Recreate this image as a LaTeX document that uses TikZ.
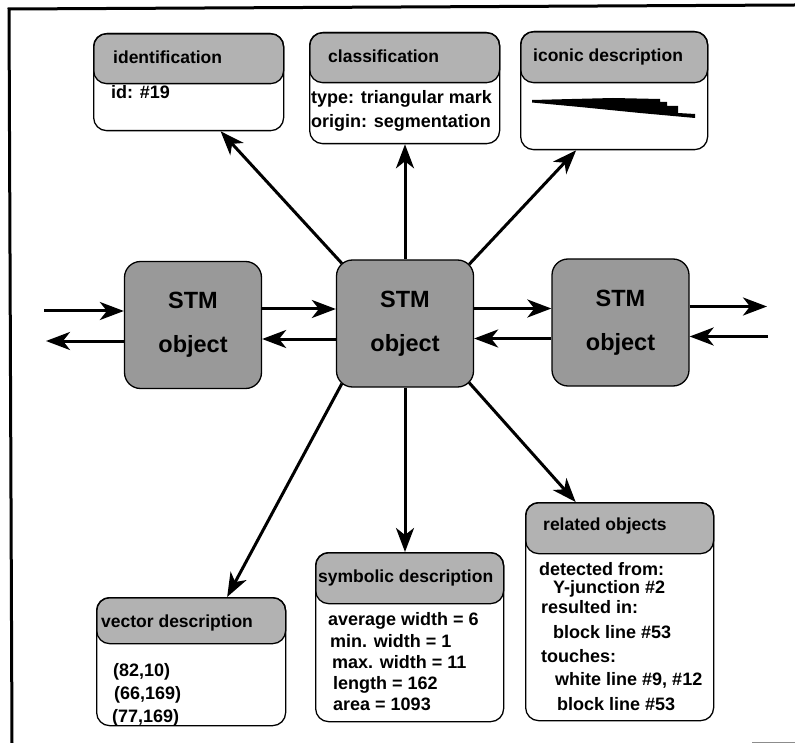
\documentclass[tikz,border=0pt]{standalone}
\usepackage{fontspec}
\setmainfont{Liberation Sans}
\usetikzlibrary{arrows.meta,calc}

\begin{document}
\begin{tikzpicture}[x=1pt,y=-1pt,
  stm/.style={draw, line width=1.3pt, rounded corners=16pt, fill=black!40,
    minimum width=137pt, minimum height=127pt, inner sep=0pt, align=center,
    font=\fontsize{23.5}{44}\selectfont\bfseries},
  infobox/.style={draw, line width=1.3pt, rounded corners=13pt,
    minimum width=190pt, inner sep=0pt, anchor=north west},
  infohead/.style={draw, line width=1.3pt, rounded corners=13pt, fill=black!30,
    minimum width=190pt, inner sep=0pt, anchor=north west},
  headtext/.style={anchor=base west, inner sep=0pt,
    font=\fontsize{17.5}{20}\selectfont\bfseries},
  bodytext/.style={anchor=base west, inner sep=0pt,
    font=\fontsize{18}{20}\selectfont\bfseries},
  link/.style={line width=3pt, -{Stealth[length=24pt,width=18pt,inset=7pt]}},
  frameline/.style={line width=3pt, line cap=rect}
]
\useasboundingbox (0,0) rectangle (795,743);

% page frame
\draw[frameline] (12,743) -- (9,9) -- (795,5);
\draw[line width=1pt, black!45] (752,742) -- (795,742);

% STM objects
\node[stm] (l) at (193,325) {STM\\object};
\node[stm] (c) at (405,323.5) {STM\\object};
\node[stm] (r) at (620.5,322.5) {STM\\object};

% identification
\node[infohead, minimum height=50pt] (identh) at (93,33) {};
\node[infobox, minimum height=97pt] (ident) at (93,33) {};
\node[headtext] (identt) at (113,64) {identification};
\node[bodytext] (identb) at (111,99) {id: \#19};

% classification
\node[infohead, minimum height=50pt] (classh) at (309,32) {};
\node[infobox, minimum height=111pt] (class) at (309,32) {};
\node[headtext] (classt) at (328,63) {classification};
\node[bodytext] (classb1) at (311,104) {type: triangular mark};
\node[bodytext] (classb2) at (311,128) {origin: segmentation};

% iconic description
\node[infohead, minimum width=187pt, minimum height=51pt] (iconh) at (520,31) {};
\node[infobox, minimum width=187pt, minimum height=118pt] (icon) at (520,31) {};
\node[headtext] (icont) at (533,62) {iconic description};
\fill (532,100) -- (572,99) -- (613,98) -- (660,99) -- (660,102) -- (667,102)
  -- (667,106) -- (678,106) -- (678,113) -- (695,114) -- (695,118)
  -- (640,113) -- (580,107) -- (532,102.5) -- cycle;

% vector description
\node[infohead, minimum width=189pt, minimum height=46pt] (vech) at (96,597) {};
\node[infobox, minimum width=189pt, minimum height=128pt] (vec) at (96,597) {};
\node[headtext] (vect) at (101,627) {vector description};
\node[bodytext] (vecb1) at (113,676) {(82,10)};
\node[bodytext] (vecb2) at (114,699) {(66,169)};
\node[bodytext] (vecb3) at (112,722) {(77,169)};

% symbolic description
\node[infohead, minimum width=188pt, minimum height=51pt] (symh) at (315,552) {};
\node[infobox, minimum width=188pt, minimum height=169pt] (sym) at (315,552) {};
\node[headtext] (symt) at (318,582) {symbolic description};
\node[bodytext] (symb1) at (328,625) {average width = 6};
\node[bodytext] (symb2) at (330,647) {min. width = 1};
\node[bodytext] (symb3) at (332,668) {max. width = 11};
\node[bodytext] (symb4) at (333,689) {length = 162};
\node[bodytext] (symb5) at (333,710) {area = 1093};

% related objects
\node[infohead, minimum width=188pt, minimum height=51pt] (relh) at (525,502) {};
\node[infobox, minimum width=188pt, minimum height=218pt] (rel) at (525,502) {};
\node[headtext] (relt) at (543,530) {related objects};
\node[bodytext] (relb1) at (539,575) {detected from:};
\node[bodytext] (relb2) at (553,593) {Y-junction \#2};
\node[bodytext] (relb3) at (541,613) {resulted in:};
\node[bodytext] (relb4) at (553,638) {block line \#53};
\node[bodytext] (relb5) at (541,662) {touches:};
\node[bodytext] (relb6) at (555,685) {white line \#9, \#12};
\node[bodytext] (relb7) at (557,710) {block line \#53};

% free ends of the chain
\coordinate (in1) at (44,311);
\coordinate (out1) at (46,341);
\coordinate (out2) at (767,306.5);
\coordinate (in2) at (768,336.5);

% chain of STM objects
\draw[link] (in1) -- ([shift={(0,-14)}]l.west);
\draw[link] ([shift={(0,16)}]l.west) -- (out1);
\draw[link] ([shift={(0,-16)}]l.east) -- ([shift={(0,-16)}]l.east -| c.west);
\draw[link] ([shift={(0,14)}]l.east -| c.west) -- ([shift={(0,14)}]l.east);
\draw[link] ([shift={(0,-15)}]c.east) -- ([shift={(0,-15)}]c.east -| r.west);
\draw[link] ([shift={(0,15)}]c.east -| r.west) -- ([shift={(0,15)}]c.east);
\draw[link] ([shift={(0,-16)}]r.east) -- (out2);
\draw[link] (in2) -- ([shift={(0,14)}]r.east);

% descriptions of the central object
\draw[link] ([shift={(6,4)}]c.north west) -- ([shift={(32,0)}]ident.south);
\draw[link] (c.north) -- (c.north |- class.south);
\draw[link] ([shift={(-5,5)}]c.north east) -- ([shift={(-38,0)}]icon.south);
\draw[link] ([shift={(6,-4)}]c.south west) -- ([shift={(36,0)}]vec.north);
\draw[link] (c.south) -- (c.south |- sym.north);
\draw[link] ([shift={(-5,-5)}]c.south east) -- ([shift={(-44,0)}]rel.north);
\end{tikzpicture}
\end{document}
